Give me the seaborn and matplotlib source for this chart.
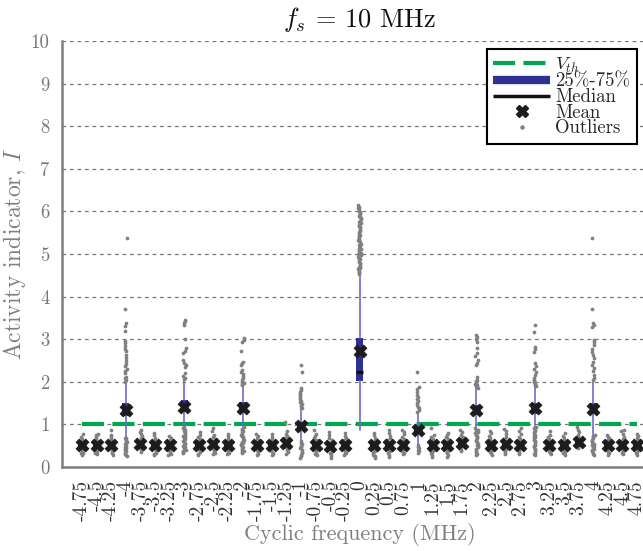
import numpy as np
import pandas as pd
import matplotlib
matplotlib.use("Agg")
import matplotlib.pyplot as plt
from matplotlib.lines import Line2D
import seaborn as sns

# Cyclic frequencies (MHz), one box per frequency
freq_labels = ['-4.75', '-4.5', '-4.25', '-4', '-3.75', '-3.5', '-3.25', '-3',
               '-2.75', '-2.5', '-2.25', '-2', '-1.75', '-1.5', '-1.25', '-1',
               '-0.75', '-0.5', '-0.25', '0', '0.25', '0.5', '0.75', '1',
               '1.25', '1.5', '1.75', '2', '2.25', '2.5', '2.75', '3',
               '3.25', '3.5', '3.75', '4', '4.25', '4.5', '4.75']

# Box summary of the activity indicator I at each frequency
q1 = [0.47, 0.47, 0.47, 1.20, 0.48, 0.46, 0.46, 1.28, 0.46, 0.47, 0.46, 1.26, 0.46,
      0.46, 0.49, 0.90, 0.46, 0.45, 0.46, 2.02, 0.46, 0.46, 0.47, 0.80, 0.46, 0.46,
      0.49, 1.22, 0.46, 0.47, 0.46, 1.25, 0.46, 0.46, 0.50, 1.24, 0.46, 0.46, 0.46]
median = [0.50, 0.50, 0.50, 1.30, 0.51, 0.50, 0.50, 1.38, 0.50, 0.51, 0.50, 1.36, 0.50,
          0.50, 0.53, 0.97, 0.50, 0.49, 0.50, 2.24, 0.50, 0.50, 0.51, 0.87, 0.50, 0.50,
          0.53, 1.32, 0.50, 0.51, 0.50, 1.35, 0.50, 0.50, 0.55, 1.34, 0.50, 0.50, 0.50]
q3 = [0.55, 0.55, 0.55, 1.50, 0.56, 0.54, 0.54, 1.57, 0.54, 0.55, 0.54, 1.52, 0.54,
      0.54, 0.57, 1.04, 0.54, 0.53, 0.54, 3.03, 0.54, 0.54, 0.55, 0.94, 0.54, 0.54,
      0.57, 1.46, 0.54, 0.55, 0.54, 1.50, 0.54, 0.54, 0.60, 1.50, 0.54, 0.54, 0.54]
whisker_low = [0.42, 0.42, 0.42, 0.70, 0.43, 0.41, 0.41, 0.95, 0.41, 0.42, 0.41, 0.95, 0.41,
               0.41, 0.44, 0.62, 0.41, 0.40, 0.41, 0.87, 0.41, 0.41, 0.42, 0.45, 0.41, 0.41,
               0.44, 0.93, 0.41, 0.42, 0.41, 0.94, 0.41, 0.41, 0.45, 0.76, 0.41, 0.41, 0.41]
whisker_high = [0.60, 0.60, 0.60, 1.95, 0.61, 0.59, 0.59, 2.04, 0.59, 0.60, 0.59, 1.92, 0.59,
                0.59, 0.62, 1.36, 0.59, 0.58, 0.59, 4.50, 0.59, 0.59, 0.60, 1.29, 0.59, 0.59,
                0.62, 1.85, 0.59, 0.60, 0.59, 1.90, 0.59, 0.59, 0.65, 2.00, 0.59, 0.59, 0.59]
mean = [0.52, 0.52, 0.52, 1.33, 0.55, 0.51, 0.51, 1.41, 0.51, 0.53, 0.52, 1.38, 0.51,
        0.51, 0.57, 0.96, 0.51, 0.50, 0.52, 2.72, 0.51, 0.51, 0.52, 0.87, 0.52, 0.51,
        0.56, 1.34, 0.51, 0.53, 0.52, 1.38, 0.51, 0.52, 0.58, 1.36, 0.51, 0.52, 0.51]

# Outlying observations at each frequency
outliers = [
    [0.27, 0.32, 0.34, 0.39, 0.42, 0.43, 0.47, 0.50, 0.51, 0.55, 0.57, 0.61, 0.66, 0.71, 0.77],
    [0.30, 0.33, 0.37, 0.40, 0.44, 0.46, 0.49, 0.53, 0.55, 0.58, 0.62, 0.66, 0.70, 0.74, 0.77],
    [0.29, 0.32, 0.36, 0.41, 0.45, 0.48, 0.50, 0.54, 0.57, 0.60, 0.63, 0.67, 0.72, 0.76, 0.87],
    [0.26, 0.29, 0.31, 0.34, 0.37, 0.40, 0.42, 0.45, 0.48, 0.50, 0.53, 0.56, 0.58, 0.61, 0.64,
     0.67, 0.69, 1.99, 2.04, 2.08, 2.12, 2.20, 2.25, 2.30, 2.36, 2.42, 2.48, 2.55, 2.62, 2.72,
     2.78, 2.83, 2.90, 2.95, 3.19, 3.31, 3.38, 3.71, 5.38],
    [0.36, 0.40, 0.44, 0.47, 0.50, 0.53, 0.56, 0.59, 0.62, 0.65, 0.69, 0.73, 0.78, 0.82, 0.87],
    [0.27, 0.30, 0.34, 0.38, 0.42, 0.45, 0.48, 0.51, 0.54, 0.57, 0.61, 0.65, 0.69, 0.74, 0.79],
    [0.28, 0.31, 0.35, 0.39, 0.43, 0.46, 0.49, 0.52, 0.55, 0.58, 0.61, 0.64, 0.68, 0.72],
    [0.33, 0.36, 0.38, 0.41, 0.44, 0.46, 0.49, 0.51, 0.54, 0.57, 0.59, 0.62, 0.65, 0.67, 0.70,
     0.73, 0.76, 0.79, 0.82, 0.85, 0.88, 0.91, 0.94, 2.06, 2.10, 2.14, 2.20, 2.35, 2.40, 2.45,
     2.51, 2.68, 2.72, 2.79, 3.00, 3.33, 3.38, 3.42, 3.45],
    [0.27, 0.31, 0.35, 0.39, 0.42, 0.45, 0.48, 0.51, 0.54, 0.57, 0.61, 0.65, 0.70, 0.75, 0.82],
    [0.30, 0.33, 0.37, 0.41, 0.45, 0.48, 0.51, 0.55, 0.58, 0.62, 0.66, 0.71, 0.76, 0.84, 0.91],
    [0.30, 0.34, 0.38, 0.42, 0.45, 0.48, 0.51, 0.54, 0.57, 0.60, 0.64, 0.68, 0.73, 0.78],
    [0.33, 0.35, 0.38, 0.40, 0.43, 0.46, 0.48, 0.51, 0.53, 0.56, 0.59, 0.61, 0.64, 0.67, 0.70,
     0.72, 0.75, 0.78, 0.81, 0.84, 0.87, 0.90, 0.94, 1.93, 1.95, 1.97, 2.00, 2.04, 2.08, 2.13,
     2.18, 2.23, 2.28, 2.39, 2.44, 2.46, 2.72, 2.93, 2.97, 3.02],
    [0.27, 0.31, 0.35, 0.39, 0.42, 0.45, 0.48, 0.51, 0.54, 0.57, 0.60, 0.64, 0.68, 0.73, 0.78],
    [0.27, 0.30, 0.34, 0.38, 0.42, 0.46, 0.49, 0.52, 0.55, 0.58, 0.62, 0.66, 0.71, 0.77],
    [0.31, 0.35, 0.39, 0.43, 0.47, 0.50, 0.53, 0.57, 0.60, 0.63, 0.67, 0.72, 0.77, 0.84, 1.06],
    [0.21, 0.25, 0.29, 0.33, 0.36, 0.40, 0.44, 0.47, 0.50, 0.53, 0.57, 0.60, 1.38, 1.42, 1.45,
     1.49, 1.52, 1.56, 1.60, 1.64, 1.68, 1.72, 1.76, 1.80, 1.85, 2.23, 2.39],
    [0.27, 0.31, 0.35, 0.39, 0.43, 0.46, 0.49, 0.52, 0.55, 0.59, 0.63, 0.67, 0.72, 0.78, 0.87],
    [0.20, 0.25, 0.30, 0.34, 0.38, 0.42, 0.46, 0.49, 0.52, 0.56, 0.60, 0.64, 0.69, 0.75, 0.82],
    [0.28, 0.32, 0.36, 0.40, 0.44, 0.47, 0.50, 0.53, 0.56, 0.60, 0.64, 0.68, 0.73, 0.80],
    [4.52, 4.55, 4.58, 4.61, 4.64, 4.67, 4.70, 4.73, 4.76, 4.79, 4.82, 4.85, 4.88, 4.91, 4.94,
     4.97, 5.00, 5.03, 5.06, 5.09, 5.12, 5.15, 5.18, 5.21, 5.24, 5.27, 5.30, 5.33, 5.36, 5.39,
     5.42, 5.45, 5.48, 5.51, 5.54, 5.57, 5.60, 5.63, 5.66, 5.69, 5.72, 5.75, 5.78, 5.81, 5.84,
     5.87, 5.90, 5.93, 5.96, 5.99, 6.02, 6.05, 6.08, 6.11, 6.15],
    [0.20, 0.25, 0.29, 0.33, 0.37, 0.41, 0.45, 0.48, 0.51, 0.55, 0.59, 0.63, 0.68, 0.74, 0.80],
    [0.24, 0.28, 0.33, 0.37, 0.41, 0.45, 0.48, 0.51, 0.55, 0.59, 0.63, 0.68, 0.73, 0.80, 0.87],
    [0.30, 0.34, 0.38, 0.42, 0.46, 0.49, 0.52, 0.55, 0.58, 0.62, 0.66, 0.71, 0.77, 0.83, 0.87],
    [0.33, 0.37, 0.41, 0.44, 0.48, 0.52, 1.30, 1.34, 1.38, 1.42, 1.46, 1.50, 1.55, 1.60, 1.65,
     1.69, 1.76, 1.82, 1.88, 2.23],
    [0.24, 0.28, 0.32, 0.36, 0.40, 0.44, 0.47, 0.50, 0.53, 0.57, 0.61, 0.65, 0.70, 0.76, 0.91],
    [0.24, 0.28, 0.32, 0.36, 0.40, 0.44, 0.48, 0.51, 0.54, 0.58, 0.62, 0.66, 0.71, 0.76, 0.80],
    [0.37, 0.41, 0.45, 0.48, 0.51, 0.54, 0.57, 0.60, 0.63, 0.67, 0.71, 0.76, 0.82, 0.87],
    [0.28, 0.31, 0.34, 0.37, 0.40, 0.43, 0.46, 0.49, 0.52, 0.55, 0.58, 0.61, 0.64, 0.67, 0.70,
     0.73, 0.76, 0.79, 0.82, 0.85, 0.88, 0.92, 1.86, 1.89, 1.92, 1.95, 1.98, 2.01, 2.05, 2.11,
     2.39, 2.45, 2.52, 2.60, 2.68, 2.79, 2.93, 3.00, 3.05, 3.10],
    [0.28, 0.32, 0.36, 0.40, 0.44, 0.47, 0.50, 0.53, 0.56, 0.60, 0.64, 0.68, 0.73, 0.79, 0.85],
    [0.30, 0.34, 0.38, 0.42, 0.45, 0.48, 0.51, 0.54, 0.58, 0.62, 0.66, 0.71, 0.77, 0.84, 0.89],
    [0.30, 0.34, 0.38, 0.42, 0.46, 0.49, 0.52, 0.55, 0.58, 0.62, 0.66, 0.71, 0.77, 0.85, 0.92],
    [0.28, 0.31, 0.34, 0.37, 0.40, 0.43, 0.46, 0.49, 0.52, 0.55, 0.58, 0.61, 0.64, 0.67, 0.70,
     0.73, 0.76, 0.79, 0.82, 0.85, 0.88, 0.91, 0.94, 1.90, 1.93, 1.96, 1.99, 2.02, 2.04, 2.10,
     2.16, 2.24, 2.31, 2.38, 2.44, 2.70, 2.76, 2.82, 3.17, 3.33],
    [0.30, 0.34, 0.38, 0.42, 0.45, 0.48, 0.51, 0.54, 0.57, 0.61, 0.65, 0.70, 0.76, 0.84],
    [0.28, 0.32, 0.36, 0.40, 0.44, 0.47, 0.50, 0.53, 0.56, 0.60, 0.64, 0.68, 0.73, 0.79],
    [0.44, 0.47, 0.50, 0.53, 0.56, 0.59, 0.62, 0.65, 0.68, 0.72, 0.76, 0.81, 0.87, 0.95],
    [0.28, 0.31, 0.34, 0.37, 0.40, 0.43, 0.46, 0.49, 0.52, 0.55, 0.58, 0.61, 0.64, 0.67, 0.70,
     0.73, 0.75, 2.04, 2.10, 2.17, 2.25, 2.32, 2.40, 2.47, 2.55, 2.62, 2.70, 2.78, 2.86, 2.93,
     2.98, 3.29, 3.33, 3.38, 3.71, 5.38],
    [0.28, 0.32, 0.36, 0.40, 0.44, 0.47, 0.50, 0.53, 0.56, 0.59, 0.63, 0.67, 0.71, 0.76],
    [0.30, 0.34, 0.38, 0.42, 0.46, 0.49, 0.52, 0.55, 0.58, 0.62, 0.66, 0.71, 0.77, 0.84, 0.88],
    [0.28, 0.32, 0.36, 0.40, 0.44, 0.47, 0.50, 0.53, 0.56, 0.60, 0.64, 0.68, 0.73, 0.77],
]

v_th = 1.0

BOX_BLUE = '#2e3192'
WHISKER_BLUE = '#6c6cc9'
GREEN = '#00a651'
GRAY_PTS = '#808080'
AXIS_GRAY = '#7f7f7f'

sns.set_style('white')
plt.rcParams['font.family'] = 'serif'
plt.rcParams['font.serif'] = ['cmr10', 'DejaVu Serif']
plt.rcParams['mathtext.fontset'] = 'cm'
plt.rcParams['axes.unicode_minus'] = False
plt.rcParams['axes.formatter.use_mathtext'] = True

fig = plt.figure(figsize=(6.43, 5.51), dpi=100)
ax = fig.add_axes([62 / 643, 1 - 467 / 551, 595 / 643, 426 / 551])

positions = np.arange(len(freq_labels))

# Threshold line
sns.lineplot(x=[positions[0], positions[-1]], y=[v_th, v_th], color=GREEN, lw=3,
             linestyle=(0, (5.3, 2.0)), ax=ax, zorder=2)

# Compact boxes: thick box, thin whiskers, short median bar
stats = [dict(q1=a, med=m, q3=b, whislo=lo, whishi=hi, label=lab)
         for a, m, b, lo, hi, lab in zip(q1, median, q3, whisker_low, whisker_high, freq_labels)]
ax.bxp(stats, positions=positions, widths=0.5, showfliers=False, showcaps=False,
       patch_artist=True, manage_ticks=False,
       boxprops=dict(facecolor=BOX_BLUE, edgecolor=BOX_BLUE, linewidth=0, zorder=3),
       whiskerprops=dict(color=WHISKER_BLUE, linewidth=1.2, zorder=3),
       medianprops=dict(color='#111111', linewidth=2.5, zorder=3.5))

# Outliers with a little horizontal jitter
out_df = pd.DataFrame({
    'freq': [lab for lab, vals in zip(freq_labels, outliers) for _ in vals],
    'I': [v for vals in outliers for v in vals],
})
np.random.seed(3)
sns.stripplot(data=out_df, x='freq', y='I', order=freq_labels, jitter=0.1, size=2.7,
              color=GRAY_PTS, linewidth=0, ax=ax, zorder=4)

# Means
sns.scatterplot(x=positions, y=mean, marker='X', s=85, color='#1c1c1c',
                edgecolor='#1c1c1c', linewidth=0.6, ax=ax, zorder=5, legend=False)

# Axes styling
ax.set_xlim(-1.37, len(freq_labels) - 1 + 1.37)
ax.set_ylim(0, 10)
ax.set_yticks(range(0, 11))
ax.set_yticklabels([str(v) for v in range(0, 11)], fontsize=13.5, color='#777777')
ax.set_xticks(positions)
ax.set_xticklabels(freq_labels, rotation=90, fontsize=14, color='#333333')
ax.tick_params(axis='y', direction='out', length=6, width=1.5, color=AXIS_GRAY, pad=3)
ax.tick_params(axis='x', length=0, pad=9.3)
ax.yaxis.grid(True, linestyle=(0, (3, 3)), color='#777777', linewidth=0.9)
ax.xaxis.grid(False)
ax.set_axisbelow(True)
for side in ('top', 'right'):
    ax.spines[side].set_visible(False)
for side in ('left', 'bottom'):
    ax.spines[side].set_color(AXIS_GRAY)
    ax.spines[side].set_linewidth(1.8)

ax.set_title(r'$f_s$ = 10 MHz', fontsize=19, pad=10, color='#111111')
ax.set_ylabel(r'Activity indicator, $I$', fontsize=17, color='#808080', labelpad=2)
ax.set_xlabel('Cyclic frequency (MHz)', fontsize=16, color='#808080', labelpad=1)

handles = [
    Line2D([], [], color=GREEN, lw=3, linestyle=(0, (5.3, 2.0)), dash_capstyle='butt'),
    Line2D([], [], color=BOX_BLUE, lw=6, solid_capstyle='butt'),
    Line2D([], [], color='#111111', lw=2.5, solid_capstyle='butt'),
    Line2D([], [], color='#1c1c1c', marker='X', markersize=8, linestyle='none'),
    Line2D([], [], color=GRAY_PTS, marker='o', markersize=2.2, linestyle='none'),
]
labels = [r'$V_{th}$', '25%-75%', 'Median', 'Mean', 'Outliers']
leg = ax.legend(handles, labels, loc='upper right', bbox_to_anchor=(637 / 643, 1 - 49 / 551),
                bbox_transform=fig.transFigure, fontsize=13.5, labelspacing=-0.12,
                handlelength=3.0, handletextpad=0.3, borderpad=0.35, borderaxespad=0,
                fancybox=False, framealpha=1, edgecolor='black')
leg.get_frame().set_linewidth(1.5)
leg.set_zorder(10)

fig.savefig('out.png', dpi=100)
